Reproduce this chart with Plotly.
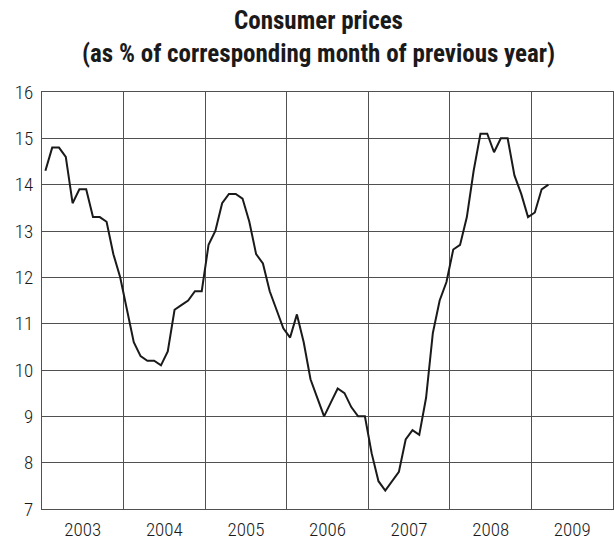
import plotly.graph_objects as go

years = [2003, 2004, 2005, 2006, 2007, 2008, 2009]
cpi_2003 = [14.3, 14.8, 14.8, 14.6, 13.6, 13.9, 13.9, 13.3, 13.3, 13.2, 12.5, 12.0]
cpi_2004 = [11.3, 10.6, 10.3, 10.2, 10.2, 10.1, 10.4, 11.3, 11.4, 11.5, 11.7, 11.7]
cpi_2005 = [12.7, 13.0, 13.6, 13.8, 13.8, 13.7, 13.2, 12.5, 12.3, 11.7, 11.3, 10.9]
cpi_2006 = [10.7, 11.2, 10.6, 9.8, 9.4, 9.0, 9.3, 9.6, 9.5, 9.2, 9.0, 9.0]
cpi_2007 = [8.2, 7.6, 7.4, 7.6, 7.8, 8.5, 8.7, 8.6, 9.4, 10.8, 11.5, 11.9]
cpi_2008 = [12.6, 12.7, 13.3, 14.3, 15.1, 15.1, 14.7, 15.0, 15.0, 14.2, 13.8, 13.3]
cpi_2009 = [13.4, 13.9, 14.0]
y_ticks = [7, 8, 9, 10, 11, 12, 13, 14, 15, 16]
title_lines = ["Consumer prices", "(as % of corresponding month of previous year)"]

series = [cpi_2003, cpi_2004, cpi_2005, cpi_2006, cpi_2007, cpi_2008, cpi_2009]
xs, ys = [], []
for yr, vals in zip(years, series):
    for m, v in enumerate(vals):
        xs.append(yr + (m + 0.5) / 12)
        ys.append(v)

FONT = "Roboto Condensed"
GRID = "#505050"
INK = "#1a1a1a"

fig = go.Figure()
fig.add_trace(go.Scatter(x=xs, y=ys, mode="lines",
                         line=dict(color=INK, width=2),
                         hoverinfo="skip", showlegend=False))

for text, yp in zip(title_lines, [1.1707, 1.0913]):
    fig.add_annotation(text=text, xref="paper", yref="paper", x=0.4834, y=yp,
                       xanchor="center", yanchor="middle", showarrow=False,
                       font=dict(family=FONT, size=25, color=INK, weight="bold"))

fig.update_layout(
    width=614, height=541,
    margin=dict(l=42, r=1, t=92, b=32),
    paper_bgcolor="white", plot_bgcolor="white",
    xaxis=dict(
        range=[years[0], years[-1] + 1],
        tickvals=[y + 0.5 for y in years],
        ticktext=[str(y) for y in years],
        ticks="", showgrid=False, zeroline=False, automargin=False,
        showline=True, linecolor=GRID, linewidth=1, mirror=True,
        tickfont=dict(family=FONT, size=19, color=INK, weight=300),
        ticklabelstandoff=3,
        minor=dict(tick0=years[0], dtick=1, showgrid=True,
                   gridcolor=GRID, gridwidth=1, ticks=""),
    ),
    yaxis=dict(
        range=[7, 16],
        tickvals=y_ticks,
        ticks="", showgrid=True, gridcolor=GRID, gridwidth=1,
        zeroline=False, automargin=False,
        showline=True, linecolor=GRID, linewidth=1, mirror=True,
        tickfont=dict(family=FONT, size=19, color=INK, weight=300),
        ticklabelstandoff=4,
    ),
)

fig.write_html("out.html", config={"displayModeBar": False},
               post_script="document.body.style.margin='0';")
